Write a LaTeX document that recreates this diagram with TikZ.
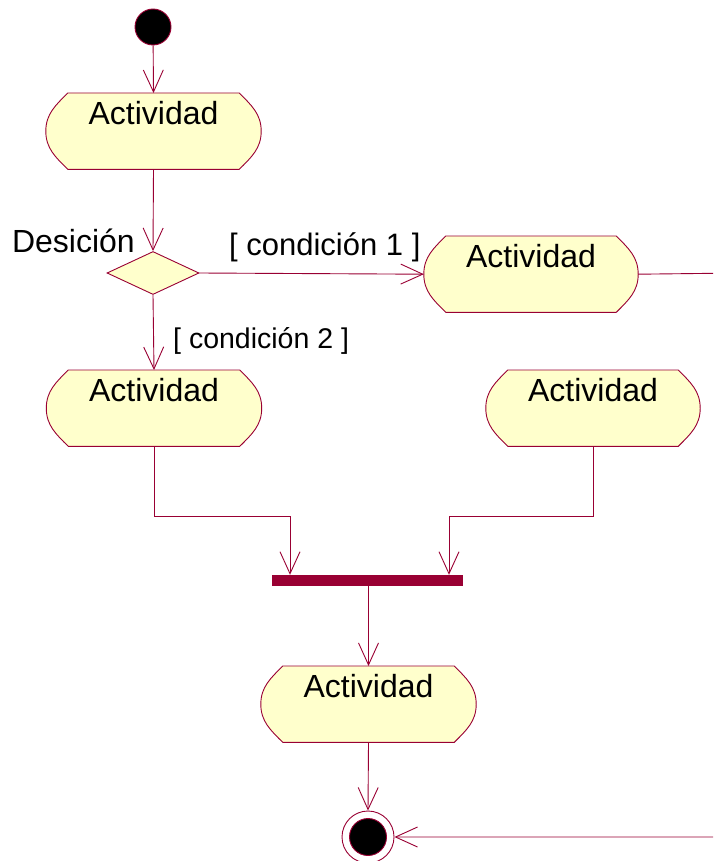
\documentclass[tikz,border=0pt]{standalone}
\usepackage{fontspec}
\setmainfont{Liberation Sans}
\usetikzlibrary{arrows.meta,shapes.geometric}
\definecolor{burg}{HTML}{990033}
\definecolor{cream}{HTML}{FFFFCC}
\tikzset{
  flow/.style={draw=burg, line width=0.9pt, -{Straight Barb[length=22pt,width=20pt,line width=0.9pt]}},
  plainline/.style={draw=burg, line width=0.9pt},
  act/.style={rectangle, anchor=north, minimum width=215pt, text height=31pt, text depth=45pt,
    inner xsep=0pt, inner ysep=0pt, font=\fontsize{32}{38}\selectfont},
  actline/.style={draw=burg, line width=0.9pt, fill=cream},
  lbl/.style={inner sep=0pt, font=\fontsize{32}{38}\selectfont},
}
\newcommand\actshape[1]{%
  \path[actline] ([xshift=22pt]#1.north west) -- ([xshift=-22pt]#1.north east)
    to[out=-45,in=90] (#1.east) to[out=-90,in=45] ([xshift=-22pt]#1.south east)
    -- ([xshift=22pt]#1.south west) to[out=135,in=-90] (#1.west)
    to[out=90,in=-135] ([xshift=22pt]#1.north west) -- cycle;}
\begin{document}
\begin{tikzpicture}[x=1pt,y=1pt]
\useasboundingbox (0,0) rectangle (713,-861);
\clip (0,0) rectangle (713,-861);
% initial node
\node[circle, fill=black, draw=burg, line width=0.9pt, minimum size=36pt, inner sep=0pt] (ini) at (153,-27) {};
% activities (outline drawn first, then text node on top)
\path (153.5,-93) node[act] (a1) {\phantom{Actividad}};
\actshape{a1}
\node[act] (a1t) at (153.5,-93) {Actividad};
\path (531,-236) node[act, minimum width=214pt] (a2) {\phantom{Actividad}};
\actshape{a2}
\node[act, minimum width=214pt] (a2t) at (531,-236) {Actividad};
\path (154,-370) node[act] (a3) {\phantom{Actividad}};
\actshape{a3}
\node[act] (a3t) at (154,-370) {Actividad};
\path (593,-370) node[act, minimum width=214pt] (a4) {\phantom{Actividad}};
\actshape{a4}
\node[act, minimum width=214pt] (a4t) at (593,-370) {Actividad};
\path (368.5,-666) node[act] (a5) {\phantom{Actividad}};
\actshape{a5}
\node[act] (a5t) at (368.5,-666) {Actividad};
% decision
\node[diamond, draw=burg, fill=cream, line width=0.9pt, minimum width=92pt, minimum height=43pt,
  aspect=2.14, inner sep=0pt] (dec) at (153,-273) {};
\node[lbl, anchor=base east] (declbl) at (135,-252) {Desición};
% synchronization bar
\node[rectangle, fill=burg, minimum width=191pt, minimum height=11pt, inner sep=0pt] (bar) at (367.5,-580.5) {};
% final node
\node[circle, draw=burg, fill=white, line width=0.9pt, minimum size=52pt, inner sep=0pt] (fin) at (368,-837) {};
\node[circle, draw=burg, fill=black, line width=0.9pt, minimum size=37pt, inner sep=0pt] (finin) at (368,-837) {};
% labels
\node[lbl, anchor=base west, font=\fontsize{31}{37}\selectfont] (c1) at (229,-255) {[ condición 1 ]};
\node[lbl, anchor=base west, font=\fontsize{28.5}{34}\selectfont] (c2) at (173,-348) {[ condición 2 ]};
% connectors
\draw[flow] (ini) -- (a1.north);
\draw[flow] (a1.south) -- (dec.north);
\draw[flow] (dec.east) -- (a2.west);
\draw[flow] (dec.south) -- (a3.north);
\coordinate (j1) at (290,-516);
\coordinate (j2) at (449,-516);
\draw[flow] (a3.south) |- (j1) -- (j1 |- bar.north);
\draw[flow] (a4.south) |- (j2) -- (j2 |- bar.north);
\draw[flow] (bar.south -| a5.north) -- (a5.north);
\draw[flow] (a5.south) -- (fin.north);
\draw[flow] (a2.east) -- (740,-273) |- (fin.east);
\end{tikzpicture}
\end{document}
